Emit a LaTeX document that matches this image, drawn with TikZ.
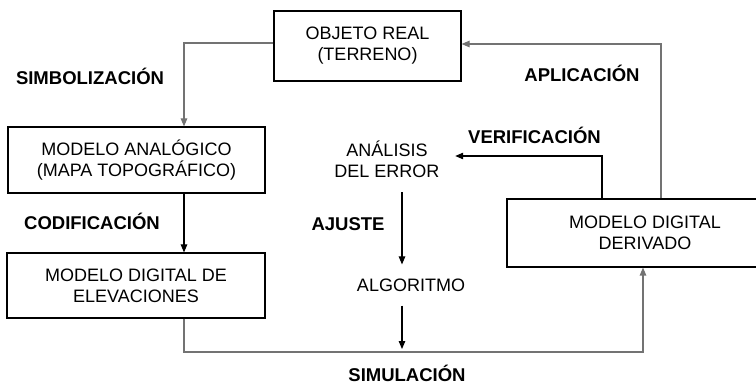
\documentclass[tikz,border=0pt]{standalone}
\usepackage{fontspec}
\setmainfont{Liberation Sans}
\usetikzlibrary{arrows.meta}
\tikzset{
  caja/.style={draw, line width=1.1pt, align=center, inner sep=0pt,
    font=\fontsize{18}{21}\selectfont},
  txt/.style={align=center, font=\fontsize{18}{21}\selectfont},
  lbl/.style={font=\fontsize{18.5}{20}\selectfont\bfseries,
    text height=13pt, text depth=0pt, inner sep=0pt},
  flecha/.style={line width=1.1pt, -{Triangle[length=8pt,width=6.5pt]}},
  gris/.style={draw=black!55}
}
\begin{document}
\begin{tikzpicture}[x=1pt,y=-1pt]
      \useasboundingbox (0,0) rectangle (756,385);
      \node (obj) at (367.5,46) [caja, minimum width=187pt, minimum height=70pt] {OBJETO REAL\\(TERRENO)};
      \node (ana) at (136.5,160) [caja, minimum width=257pt, minimum height=66pt] {MODELO ANALÓGICO\\(MAPA TOPOGRÁFICO)};
      \node (dem) at (136,285.5) [caja, minimum width=258pt, minimum height=65pt] {MODELO DIGITAL DE\\ELEVACIONES};
      \node (der) at (645,233) [caja, minimum width=276pt, minimum height=68pt] {MODELO DIGITAL\\DERIVADO};
      \node (err) at (387,159.5) [txt, inner xsep=15.5pt, inner ysep=14pt] {ANÁLISIS\\DEL ERROR};
      \node (alg) at (411,285) [txt, inner xsep=0pt, inner ysep=14pt] {ALGORITMO};
      \coordinate (c1) at (184,352);
      \coordinate (aj) at (402,0);
      \draw[flecha, gris] ([yshift=3pt]obj.west) -| (ana.north -| c1);
      \draw[flecha] (ana.south -| c1) -- (dem.north -| c1);
      \draw[flecha, gris] (dem.south -| c1) -- (c1) -| ([xshift=-2pt]der.south);
      \draw[flecha, gris] ([xshift=16pt]der.north) |- ([yshift=2pt]obj.east);
      \draw[flecha] ([xshift=-43pt]der.north) |- ([yshift=3.5pt]err.east);
      \draw[flecha] (err.south -| aj) -- (alg.north -| aj);
      \draw[flecha, shorten >=3pt] (alg.south -| aj) -- (c1 -| aj);
      \node (simb) at (90,78) [lbl] {SIMBOLIZACIÓN};
      \node (codi) at (92,223) [lbl] {CODIFICACIÓN};
      \node (apli) at (582,75) [lbl] {APLICACIÓN};
      \node (veri) at (534.5,137) [lbl] {VERIFICACIÓN};
      \node (ajus) at (348,224) [lbl] {AJUSTE};
      \node (simu) at (407,375) [lbl] {SIMULACIÓN};
    \end{tikzpicture}
\end{document}
